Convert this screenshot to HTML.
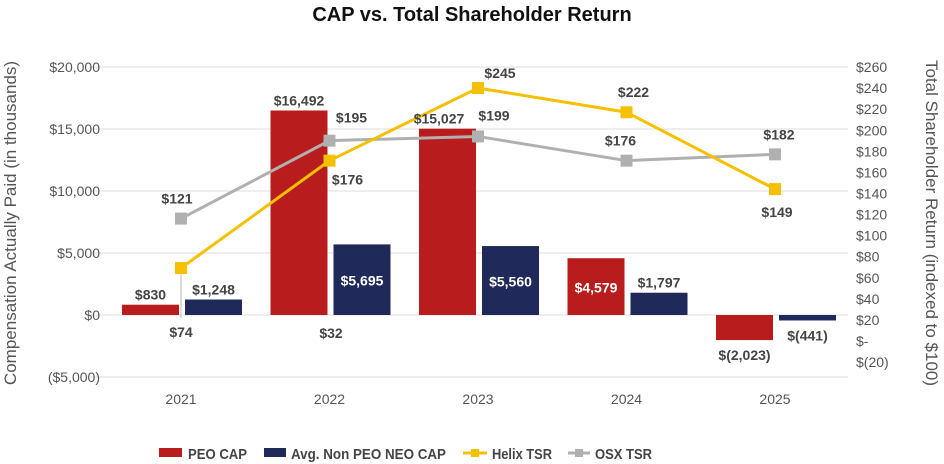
<!DOCTYPE html>
<html><head><meta charset="utf-8"><style>
body{margin:0;background:#fff;}
svg{display:block;font-family:"Liberation Sans",sans-serif;}
</style></head><body>
<svg id="chart" width="944" height="464" viewBox="0 0 944 464">
<text x="472" y="21" text-anchor="middle" font-size="20" font-weight="bold" fill="#111">CAP vs. Total Shareholder Return</text>
<g id="grid"></g><g id="bars"></g><g id="lines"></g><g id="labels"></g>
<text transform="translate(16,223) rotate(-90)" text-anchor="middle" font-size="17" fill="#555">Compensation Actually Paid (in thousands)</text>
<text transform="translate(926,223) rotate(90)" text-anchor="middle" font-size="17" fill="#555">Total Shareholder Return (indexed to $100)</text>
<g font-size="15" font-weight="bold" fill="#444">
<rect x="159" y="448" width="23" height="9" fill="#b91c1c"/>
<text x="188" y="459" textLength="59" lengthAdjust="spacingAndGlyphs">PEO CAP</text>
<rect x="264" y="448" width="22" height="9" fill="#1f2a5a"/>
<text x="291" y="459" textLength="155" lengthAdjust="spacingAndGlyphs">Avg. Non PEO NEO CAP</text>
<line x1="463" y1="453" x2="487" y2="453" stroke="#f5c000" stroke-width="3"/><rect x="471" y="449" width="8" height="8" fill="#f5c000"/>
<text x="492" y="459" textLength="60" lengthAdjust="spacingAndGlyphs">Helix TSR</text>
<line x1="568" y1="453" x2="590" y2="453" stroke="#b0b0b0" stroke-width="3"/><rect x="575" y="449" width="8" height="8" fill="#b0b0b0"/>
<text x="595" y="459" textLength="57" lengthAdjust="spacingAndGlyphs">OSX TSR</text>
</g>
</svg>
<script>
const years=['2021','2022','2023','2024','2025'];
const peoCap=[830,16492,15027,4579,-2023];
const neoCap=[1248,5695,5560,1797,-441];
const helixTsr=[74,176,245,222,149];
const osxTsr=[121,195,199,176,182];
const leftTicks=[20000,15000,10000,5000,0,-5000];
const leftTickLabels=['$20,000','$15,000','$10,000','$5,000','$0','($5,000)'];
const rightTicks=[260,240,220,200,180,160,140,120,100,80,60,40,20,0,-20];
const rightTickLabels=['$260','$240','$220','$200','$180','$160','$140','$120','$100','$80','$60','$40','$20','$-','$(20)'];
const extraLabels=['$74','$32'];

const NS='http://www.w3.org/2000/svg';
const yL=v=>315-v*62/5000;
const yR=v=>341-v*21.07/20;
const yRpt=v=>346-v*1.053;
const xC=i=>181+i*148.5;
function mk(tag,attrs,parent,text){const e=document.createElementNS(NS,tag);for(const k in attrs)e.setAttribute(k,attrs[k]);if(text!==undefined)e.textContent=text;document.getElementById(parent).appendChild(e);return e;}
const fmt=v=>v<0?'$('+Math.abs(v).toLocaleString('en-US')+')':'$'+v.toLocaleString('en-US');

leftTicks.forEach((t,i)=>{
  const l=mk('line',{x1:90,x2:848,y1:yL(t),y2:yL(t),stroke:'#ddd','stroke-width':1},'grid');
  
  
  const tx=mk('text',{x:100,y:yL(t)+5,'text-anchor':'end','font-size':14,fill:'#555'},'grid',leftTickLabels[i]);
  
  
});
rightTicks.forEach((t,i)=>{
  const tx=mk('text',{x:856,y:yR(t)+5,'font-size':14,fill:'#555'},'grid',rightTickLabels[i]);
  
  
});
years.forEach((y,i)=>{
  const tx=mk('text',{x:xC(i),y:404,'text-anchor':'middle','font-size':14,fill:'#555'},'grid',y);
  
  
});
years.forEach((y,i)=>{
  const c=xC(i);
  [[peoCap[i],c-59,'#b91c1c','peo'],[neoCap[i],c+4,'#1f2a5a','neo']].forEach(([v,x,col,nm])=>{
    const top=Math.min(yL(v),yL(0)),h=Math.abs(yL(v)-yL(0));
    const r=mk('rect',{x:x,y:top,width:57,height:h,fill:col},'bars');
    
    
    let ly,fill='#444',cx=x+28.5;
    const inside=h>50&&!(nm==='peo'&&v>10000);
    if(v<0){ly=yL(v)+20;}
    else if(inside){ly=top+h/2+6;fill='#fff';}
    else ly=top-5;
    if(nm==='peo'&&i===2){cx=x+20;}
    const t=mk('text',{x:cx,y:ly,'text-anchor':'middle','font-size':14,'font-weight':'bold',fill:fill},'labels',fmt(v));
    
    
  });
});
function series(vals,col,nm,offs){
  const pts=vals.map((v,i)=>[xC(i),yRpt(v)]);
  const p=mk('polyline',{points:pts.map(p=>p.join(',')).join(' '),fill:'none',stroke:col,'stroke-width':3},'lines');
  
  
  pts.forEach((pt,i)=>{
    const r=mk('rect',{x:pt[0]-6,y:pt[1]-6,width:12,height:12,fill:col},'lines');
    
    
    const t=mk('text',{x:pt[0]+offs[i][0],y:pt[1]+offs[i][1],'text-anchor':'middle','font-size':14,'font-weight':'bold',fill:'#444'},'labels','$'+vals[i]);
    
    
  });
}
series(osxTsr,'#b0b0b0','osx',[[-4,-15],[22,-18],[16,-16],[-6,-15],[4,-15]]);
series(helixTsr,'#f5c000','helix',[[0,69],[18,24],[22,-10],[7,-15],[2,28]]);
const lead=mk('line',{x1:xC(0),y1:yRpt(helixTsr[0])+6,x2:xC(0),y2:318,stroke:'#bbb','stroke-width':1},'lines');


const t32=mk('text',{x:331,y:338,'text-anchor':'middle','font-size':14,'font-weight':'bold',fill:'#444'},'labels',extraLabels[1]);


</script>
</body></html>
